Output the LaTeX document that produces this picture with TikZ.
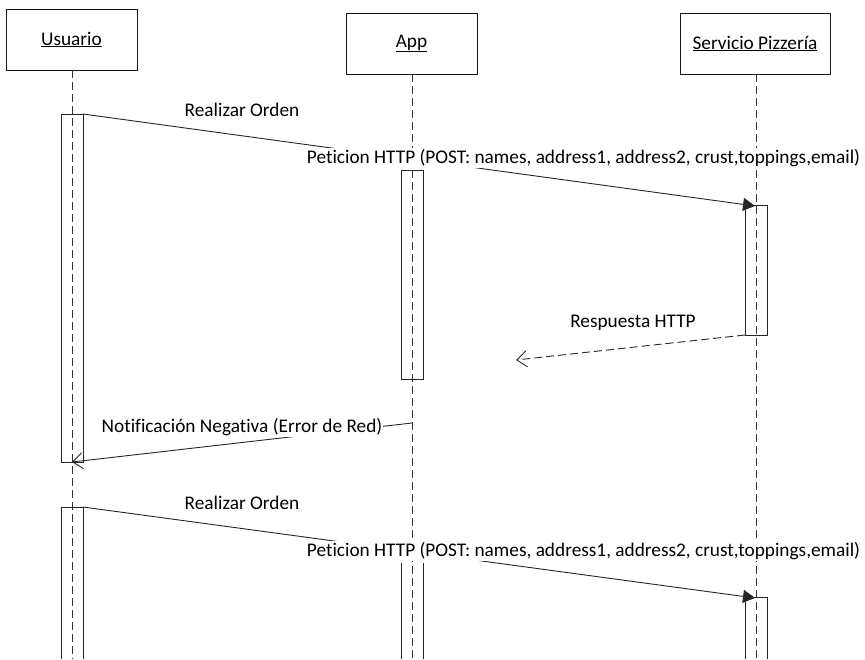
\documentclass[tikz,border=0pt]{standalone}
\usepackage{fontspec}
\setmainfont[Ligatures=NoCommon,RawFeature={-liga;-dlig}]{Carlito}
\usetikzlibrary{arrows.meta}
\begin{document}
\begin{tikzpicture}[x=1pt,y=-1pt,
  txt/.style={font=\fontsize{19.3}{22}\selectfont},
  actor/.style={draw=black!90, line width=0.9pt, inner sep=0pt, txt},
  lifeline/.style={draw=black!80, line width=0.9pt, dash pattern=on 8pt off 4pt},
  activation/.style={draw=black!85, line width=0.9pt},
  msg/.style={draw=black!85, line width=0.9pt},
  sync/.style={msg, -{Triangle[length=12pt,width=13pt]}},
  reply/.style={msg, -{Straight Barb[length=10pt,width=16pt]}},
  lbl/.style={txt, inner sep=1pt},
  lblw/.style={lbl, fill=white},
]
\useasboundingbox (0,0) rectangle (865,659);

% participants
\node[actor, minimum width=131pt, minimum height=61pt] (usr) at (71.5,39.5) {\underline{Usuario}};
\node[actor, minimum width=131pt, minimum height=61pt] (app) at (411.5,43.5) {\underline{App}};
\node[actor, minimum width=150pt, minimum height=61pt] (srv) at (755,43.5) {\underline{Servicio Pizzería}};

% lifelines
\coordinate (usrEnd) at (72,659);
\coordinate (appEnd) at (412,659);
\coordinate (srvEnd) at (756,659);
\draw[lifeline] (usr.south -| usrEnd) -- (usrEnd);
\draw[lifeline] (app.south -| appEnd) -- (appEnd);
\draw[lifeline] (srv.south -| srvEnd) -- (srvEnd);

% activation bars, first order
\draw[activation] (61,114) rectangle (83,462);
\draw[activation] (401,170) rectangle (423,379);
\draw[activation] (745,205) rectangle (767,335);
% activation bars, second order (running past the bottom edge)
\draw[activation] (61,659) -- (61,507) -- (83,507) -- (83,659);
\draw[activation] (401,659) -- (401,563);
\draw[activation] (423,563) -- (423,659);
\draw[activation] (745,659) -- (745,597) -- (767,597) -- (767,659);

% message end points
\coordinate (o1) at (83,114);
\coordinate (p1) at (755,206);
\coordinate (r1) at (745,335);
\coordinate (r1e) at (516,360);
\coordinate (n1) at (412,423);
\coordinate (n1e) at (72,462);
\coordinate (o2) at (83,507);
\coordinate (p2) at (755,598);

% first order
\draw[sync] (o1) -- (p1);
\node[lbl] (ro1) at (242,110) {Realizar Orden};
\node[lblw] (ph1) at (583.5,158) {Peticion HTTP (POST: names, address1, address2, crust,toppings,email)};

\draw[reply, dash pattern=on 8pt off 4pt] (r1) -- (r1e);
\node[lbl] (rh1) at (633,323) {Respuesta HTTP};

\draw[reply] (n1) -- (n1e);
\node[lblw] (nn1) at (242,427) {Notificación Negativa (Error de Red)};

% second order
\draw[sync] (o2) -- (p2);
\node[lbl] (ro2) at (242,503) {Realizar Orden};
\node[lblw] (ph2) at (583.5,551) {Peticion HTTP (POST: names, address1, address2, crust,toppings,email)};
\end{tikzpicture}
\end{document}
